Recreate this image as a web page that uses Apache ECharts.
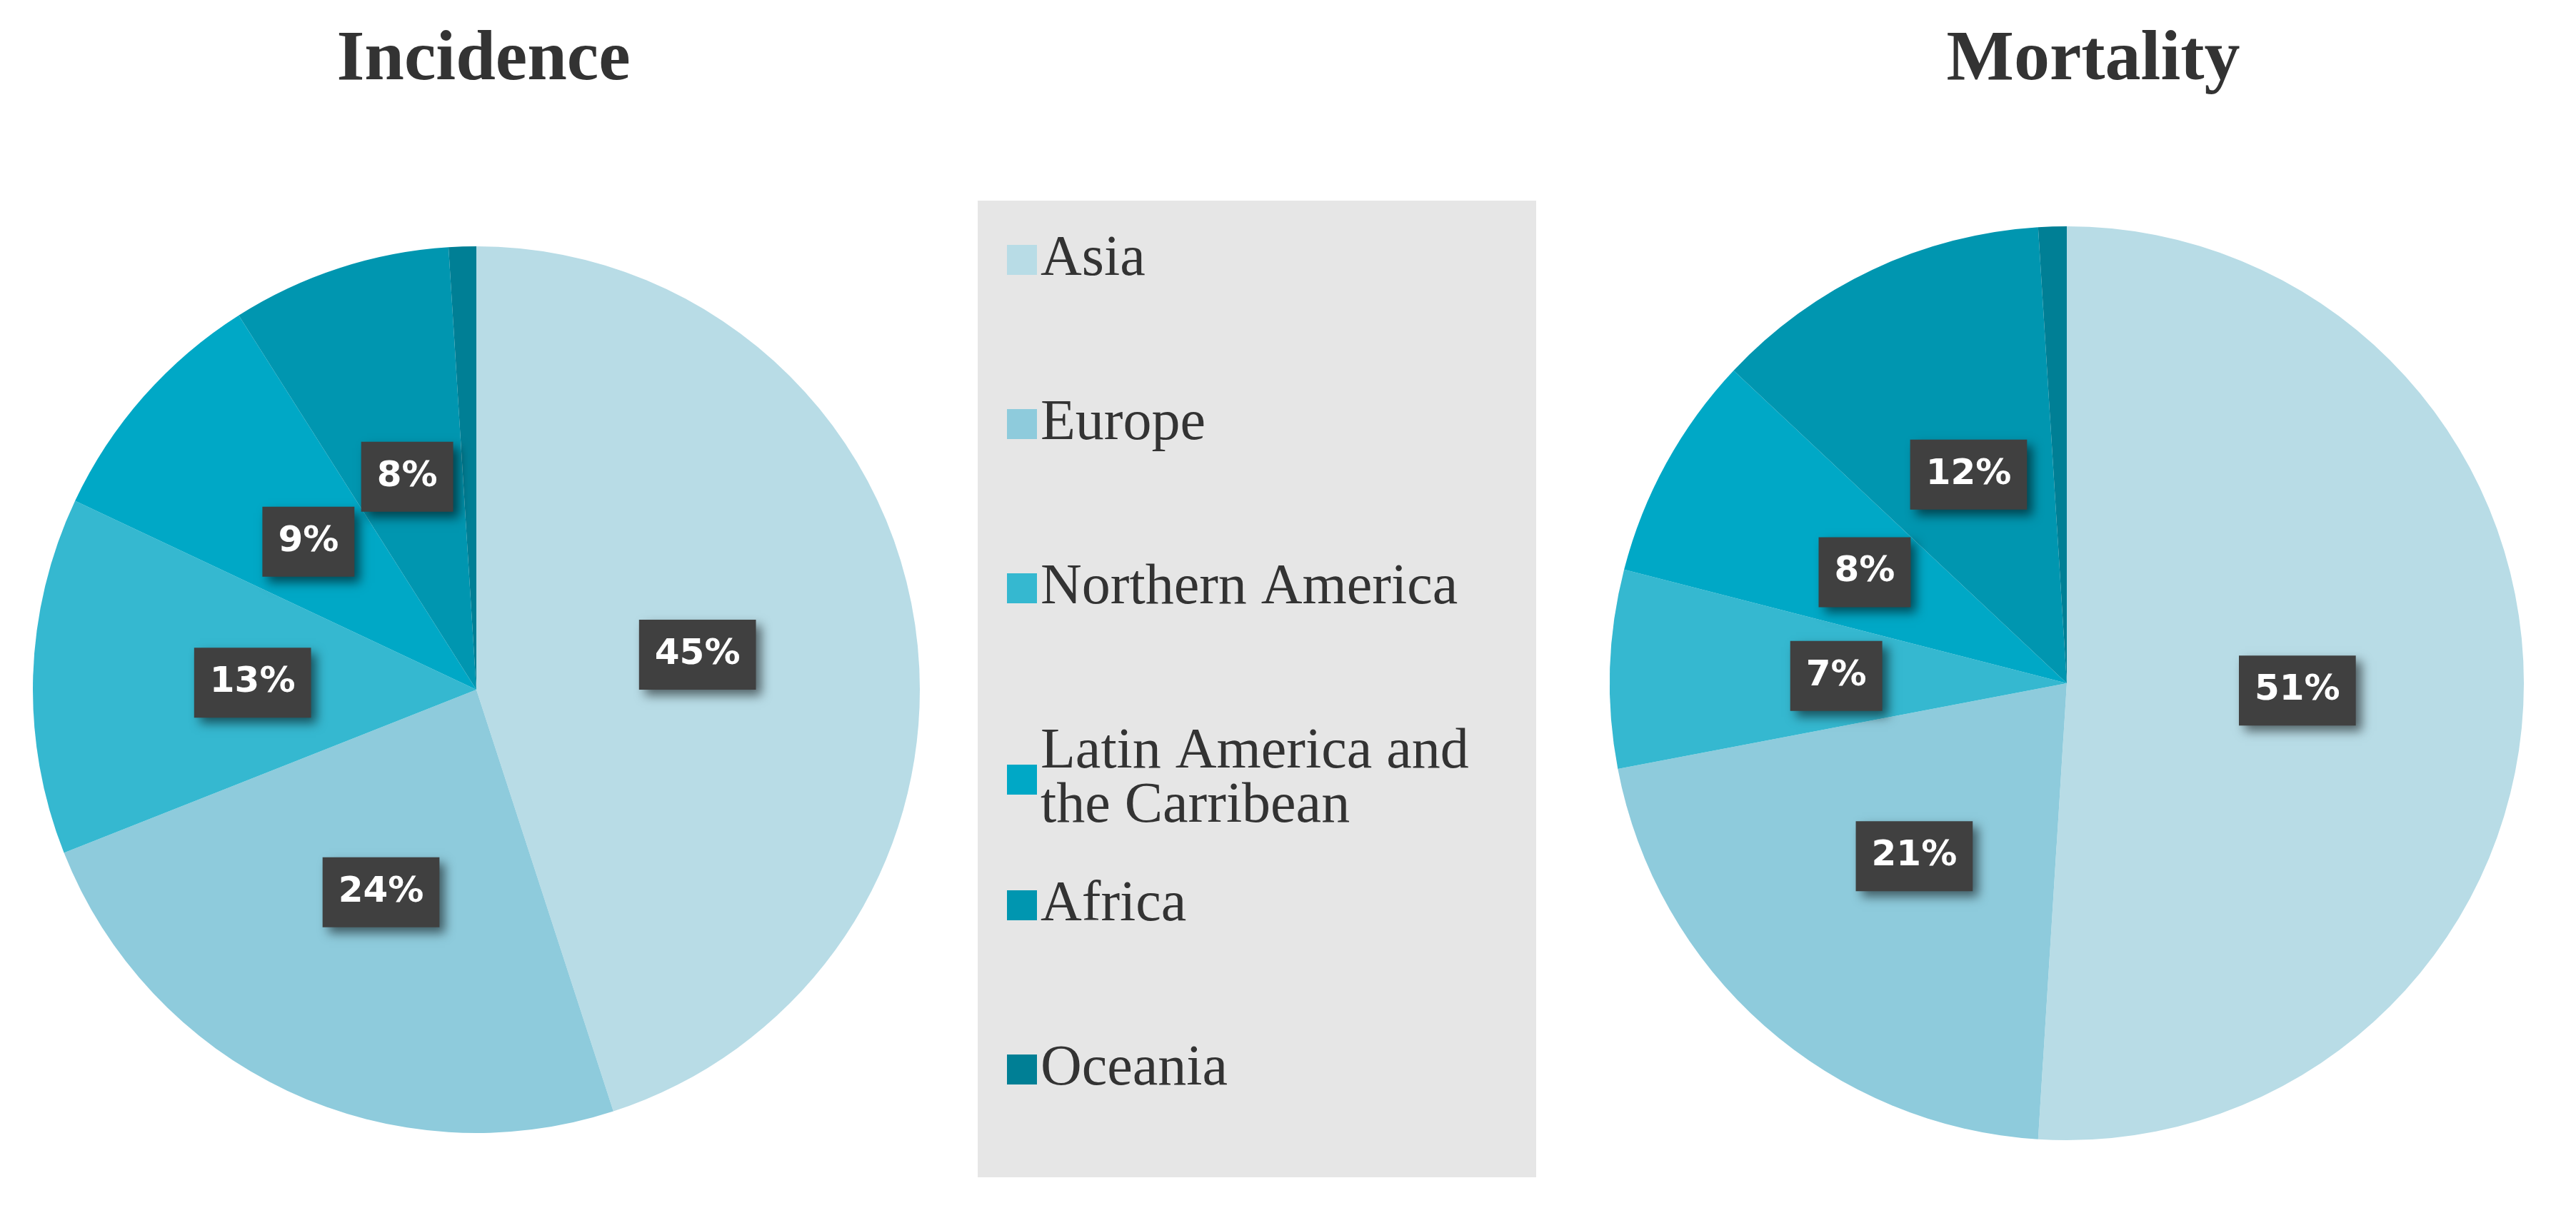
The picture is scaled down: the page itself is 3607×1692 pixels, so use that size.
<!DOCTYPE html>
<html><head><meta charset="utf-8">
<script src="https://cdn.jsdelivr.net/npm/echarts@6/dist/echarts.min.js"></script>
<style>html,body{margin:0;padding:0;background:#fff}#c{width:3607px;height:1692px}</style>
</head><body><div id="c"></div>
<script>
const categories = ['Asia','Europe','Northern America','Latin America and the Carribean','Africa','Oceania'];
const incidence = [45,24,13,9,8,1];
const mortality = [51,21,7,8,12,1];
const colors = ['#b8dce6','#8ecbdc','#35b8d0','#00a8c6','#0096b0','#007f95'];
const titles = ['Incidence','Mortality'];

const chart = echarts.init(document.getElementById('c'));
const label = {
  show:true, position:'inside', formatter:'{c}%',
  color:'#fff', fontFamily:'DejaVu Sans', fontWeight:'bold', fontSize:50,
  backgroundColor:'#404040', padding:[26,22,22,22],
  shadowBlur:14, shadowColor:'rgba(0,0,0,0.55)', shadowOffsetX:8, shadowOffsetY:8
};
const mk = (vals)=>categories.map((n,i)=>({name:n,value:vals[i]}));
const legendCommon = {
  orient:'vertical', left:1405, itemWidth:42, itemHeight:42, itemGap:150,
  icon:'rect',
  textStyle:{fontFamily:'Liberation Serif', fontSize:80, color:'#333', lineHeight:76},
  formatter:n=> n==='Latin America and the Carribean' ? 'Latin America and\nthe Carribean' : n,
  selectedMode:false
};
chart.setOption({
  animation:false,
  color:colors,
  title:[
    {text:titles[0], left:672, top:80, textAlign:'center', textVerticalAlign:'middle',
     textStyle:{fontFamily:'Liberation Serif', fontWeight:'bold', fontSize:100, color:'#333'}},
    {text:titles[1], left:2926, top:80, textAlign:'center', textVerticalAlign:'middle',
     textStyle:{fontFamily:'Liberation Serif', fontWeight:'bold', fontSize:100, color:'#333'}}
  ],
  graphic:[{type:'rect', z:-10, shape:{x:1369,y:281,width:782,height:1368}, style:{fill:'#e6e6e6'}}],
  legend:[
    Object.assign({}, legendCommon, {top:319, data:categories.slice(0,4)}),
    Object.assign({}, legendCommon, {top:1223, data:categories.slice(4)})
  ],
  series:[
    {type:'pie', center:[667,966], radius:621, startAngle:90, clockwise:true,
     label:label, labelLine:{show:false}, data:mk(incidence)},
    {type:'pie', center:[2894,957], radius:640, startAngle:90, clockwise:true,
     label:label, labelLine:{show:false}, data:mk(mortality)}
  ]
});
</script></body></html>
